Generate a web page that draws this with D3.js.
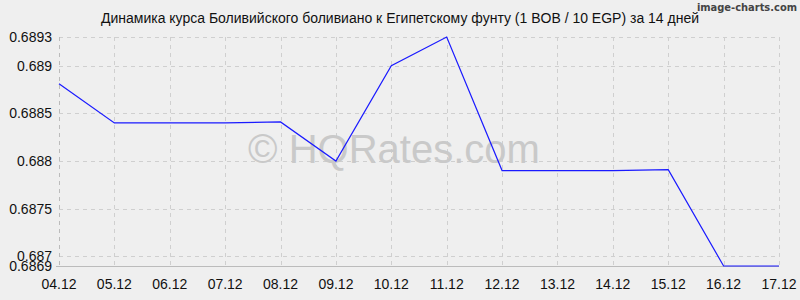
<!DOCTYPE html>
<html>
<head>
    <meta charset="utf-8">
    <script src="https://d3js.org/d3.v7.min.js"></script>
    <style>
        body { margin: 0; background: #efefef; }
        svg text { font-family: "Liberation Sans", Arial, sans-serif; fill: #111; }
        .grid line { stroke: #cfcfcf; stroke-dasharray: 4,4; }
    </style>
    <title>BOB / EGP</title>
</head>
<body>
<svg width="800" height="300"></svg>
<script>
    // data
    var dates = ["04.12", "05.12", "06.12", "07.12", "08.12", "09.12", "10.12",
                 "11.12", "12.12", "13.12", "14.12", "15.12", "16.12", "17.12"];
    var rates = [0.68881, 0.68840, 0.68840, 0.68840, 0.68841, 0.6880, 0.6890,
                 0.6893, 0.68790, 0.68790, 0.68790, 0.68791, 0.6869, 0.6869];
    var yTicks = [0.6869, 0.687, 0.6875, 0.688, 0.6885, 0.689, 0.6893];

    var svg = d3.select("svg");
    var plotLeft = 59, plotRight = 779, plotTop = 37, plotBottom = 266;

    svg.append("rect").attr("width", 800).attr("height", 300).attr("fill", "#efefef");

    var x = d3.scalePoint().domain(dates).range([plotLeft, plotRight]);
    var y = d3.scaleLinear().domain([0.6869, 0.6893]).range([plotBottom, plotTop]);

    // grid
    var grid = svg.append("g").attr("class", "grid");
    grid.selectAll(".v").data(dates).enter().append("line")
        .attr("x1", function (d) { return Math.round(x(d)) + 0.5; })
        .attr("x2", function (d) { return Math.round(x(d)) + 0.5; })
        .attr("y1", plotTop).attr("y2", plotBottom);
    grid.selectAll(".h").data(yTicks).enter().append("line")
        .attr("x1", plotLeft).attr("x2", plotRight)
        .attr("y1", function (d) { return Math.round(y(d)) + 0.5; })
        .attr("y2", function (d) { return Math.round(y(d)) + 0.5; });

    // axes lines
    svg.append("line").attr("x1", plotLeft + 0.5).attr("x2", plotLeft + 0.5)
        .attr("y1", plotTop).attr("y2", plotBottom + 3)
        .attr("stroke", "#bbb").attr("stroke-dasharray", "4,4");
    svg.append("line").attr("x1", plotLeft - 3).attr("x2", plotRight)
        .attr("y1", plotBottom + 0.5).attr("y2", plotBottom + 0.5)
        .attr("stroke", "#bbb");

    // watermark
    svg.append("text")
        .attr("x", 394).attr("y", 163)
        .attr("text-anchor", "middle")
        .attr("font-size", "40px")
        .style("fill", "#c9c9c9")
        .text("\u00a9 HQRates.com");

    // y labels
    svg.selectAll(".yl").data(yTicks).enter().append("text")
        .attr("x", 52)
        .attr("y", function (d) { return y(d) + 5; })
        .attr("text-anchor", "end")
        .attr("font-size", "14px")
        .text(function (d) { return d3.format("")(d); });

    // x labels
    svg.selectAll(".xl").data(dates).enter().append("text")
        .attr("x", function (d) { return x(d); })
        .attr("y", 289)
        .attr("text-anchor", "middle")
        .attr("font-size", "14px")
        .text(function (d) { return d; });

    // line
    var line = d3.line()
        .x(function (d, i) { return x(dates[i]); })
        .y(function (d) { return y(d); });
    svg.append("path").datum(rates)
        .attr("d", line)
        .attr("fill", "none")
        .attr("stroke", "#1a1aff")
        .attr("stroke-width", 1.2);

    // title
    svg.append("text")
        .attr("x", 400).attr("y", 23)
        .attr("text-anchor", "middle")
        .attr("font-size", "14px")
        .text("Динамика курса Боливийского боливиано к Египетскому фунту (1 BOB / 10 EGP) за 14 дней");

    svg.append("text")
        .attr("x", 797).attr("y", 11)
        .attr("text-anchor", "end")
        .attr("font-size", "11px")
        .attr("font-weight", "bold")
        .style("fill", "#444")
        .style("font-family", "'DejaVu Sans Condensed', sans-serif")
        .text("image-charts.com");
</script>
</body>
</html>
